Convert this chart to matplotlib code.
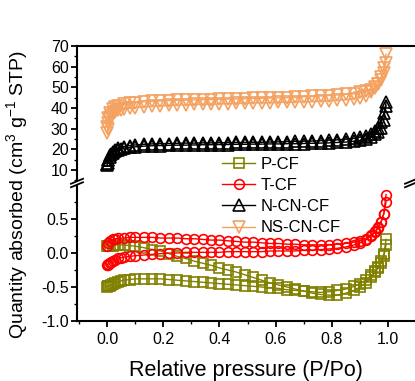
import matplotlib
matplotlib.use("Agg")
import matplotlib.pyplot as plt
from matplotlib.lines import Line2D
from matplotlib.patches import Polygon
from matplotlib.ticker import MultipleLocator

plt.rcParams['font.family'] = ['Liberation Sans', 'DejaVu Sans']
plt.rcParams['mathtext.fontset'] = 'custom'
plt.rcParams['mathtext.rm'] = 'Liberation Sans'

# ---------------- data ----------------
ads_x = [0.0, 0.002, 0.005, 0.01, 0.015, 0.02, 0.03, 0.04, 0.05, 0.06, 0.08, 0.1, 0.13, 0.16, 0.19,
         0.22, 0.25, 0.28, 0.31, 0.34, 0.37, 0.40, 0.43, 0.46, 0.49, 0.52, 0.55, 0.58, 0.61, 0.64,
         0.67, 0.70, 0.73, 0.76, 0.79, 0.82, 0.85, 0.88, 0.90, 0.92, 0.94, 0.955, 0.965, 0.975, 0.985, 0.993]
des_x = [0.993, 0.985, 0.975, 0.965, 0.955, 0.94, 0.92, 0.90, 0.88, 0.85, 0.82, 0.79, 0.76, 0.73, 0.70,
         0.67, 0.64, 0.61, 0.58, 0.55, 0.52, 0.49, 0.46, 0.43, 0.40, 0.37, 0.34, 0.31, 0.28, 0.25,
         0.22, 0.19, 0.16, 0.13, 0.10, 0.08, 0.06, 0.04, 0.03, 0.02, 0.01, 0.005, 0.0]

pcf_ads = [-0.50, -0.49, -0.49, -0.48, -0.47, -0.46, -0.44, -0.42, -0.41, -0.40, -0.39, -0.38, -0.38, -0.38, -0.38,
           -0.39, -0.40, -0.41, -0.42, -0.43, -0.44, -0.45, -0.46, -0.47, -0.48, -0.49, -0.50, -0.51, -0.52, -0.54,
           -0.55, -0.56, -0.57, -0.58, -0.57, -0.55, -0.53, -0.49, -0.45, -0.40, -0.33, -0.27, -0.20, -0.12, -0.02, 0.20]
pcf_des = [0.12, -0.05, -0.15, -0.22, -0.28, -0.36, -0.44, -0.50, -0.55, -0.59, -0.62, -0.62, -0.61, -0.59, -0.56,
           -0.53, -0.50, -0.47, -0.44, -0.40, -0.36, -0.32, -0.28, -0.25, -0.22, -0.18, -0.15, -0.12, -0.08, -0.05,
           -0.01, 0.03, 0.05, 0.08, 0.10, 0.11, 0.12, 0.12, 0.12, 0.11, 0.10, 0.10, 0.10]

tcf_ads = [-0.18, -0.17, -0.16, -0.15, -0.13, -0.12, -0.10, -0.08, -0.07, -0.06, -0.05, -0.04, -0.03, -0.02, -0.01,
           0.00, 0.00, 0.01, 0.01, 0.01, 0.01, 0.01, 0.02, 0.02, 0.02, 0.02, 0.02, 0.03, 0.03, 0.03,
           0.03, 0.04, 0.04, 0.05, 0.06, 0.07, 0.09, 0.12, 0.15, 0.19, 0.25, 0.31, 0.37, 0.45, 0.58, 0.86]
tcf_des = [0.75, 0.58, 0.46, 0.38, 0.32, 0.26, 0.21, 0.18, 0.16, 0.14, 0.13, 0.12, 0.12, 0.12, 0.12,
           0.13, 0.13, 0.14, 0.14, 0.15, 0.16, 0.16, 0.17, 0.18, 0.19, 0.19, 0.20, 0.21, 0.21, 0.22,
           0.22, 0.22, 0.23, 0.23, 0.23, 0.23, 0.22, 0.22, 0.21, 0.20, 0.18, 0.15, 0.11]

ncn_ads = [12.5, 13.5, 15.0, 16.5, 17.5, 18.3, 19.2, 19.8, 20.2, 20.5, 20.9, 21.2, 21.5, 21.7, 21.8,
           21.9, 22.0, 22.0, 22.1, 22.2, 22.2, 22.3, 22.3, 22.4, 22.4, 22.5, 22.5, 22.6, 22.6, 22.7,
           22.7, 22.8, 22.9, 23.0, 23.1, 23.3, 23.5, 23.9, 24.3, 25.0, 26.0, 27.2, 28.5, 30.5, 34.0, 43.0]
ncn_des = [41.0, 37.5, 33.0, 30.5, 29.0, 27.5, 26.5, 25.8, 25.3, 24.9, 24.6, 24.4, 24.2, 24.0, 23.9,
           23.8, 23.7, 23.6, 23.5, 23.4, 23.4, 23.3, 23.3, 23.2, 23.2, 23.1, 23.1, 23.0, 23.0, 22.9,
           22.8, 22.7, 22.6, 22.4, 22.1, 21.8, 21.3, 20.5, 19.8, 18.8, 17.0, 15.0, 13.0]

nscn_ads = [28.0, 30.0, 32.5, 34.5, 36.0, 37.0, 38.2, 38.8, 39.2, 39.5, 39.9, 40.2, 40.5, 40.8, 41.0,
            41.2, 41.4, 41.5, 41.7, 41.8, 41.9, 42.0, 42.1, 42.2, 42.3, 42.4, 42.5, 42.6, 42.7, 42.8,
            42.9, 43.0, 43.1, 43.3, 43.5, 43.7, 44.0, 44.5, 45.0, 46.0, 47.5, 49.5, 51.5, 55.0, 59.5, 66.0]
nscn_des = [62.0, 57.0, 53.5, 51.5, 50.0, 48.8, 48.0, 47.5, 47.0, 46.6, 46.3, 46.0, 45.8, 45.6, 45.4,
            45.2, 45.0, 44.9, 44.8, 44.7, 44.6, 44.5, 44.4, 44.3, 44.2, 44.1, 44.0, 43.9, 43.8, 43.7,
            43.6, 43.4, 43.2, 43.0, 42.6, 42.2, 41.7, 41.0, 40.3, 39.3, 37.5, 35.0, 31.0]

labels = ['P-CF', 'T-CF', 'N-CN-CF', 'NS-CN-CF']
colors = ['#808000', '#FF0000', '#000000', '#F4A262']
markers = ['s', 'o', '^', 'v']

top_yticks = [10, 20, 30, 40, 50, 60, 70]
bot_yticks = [-1.0, -0.5, 0.0, 0.5]
xticks = [0.0, 0.2, 0.4, 0.6, 0.8, 1.0]

# ---------------- figure ----------------
W, H = 415, 381
fig = plt.figure(figsize=(W / 100, H / 100), dpi=100)

def fx(px):
    return px / W

def fy(py):
    return 1 - py / H

L, R = 77, 415
T1, B1 = 46, 184
T2, B2 = 184, 321
ax_top = fig.add_axes([fx(L), fy(B1), fx(R) - fx(L), fy(T1) - fy(B1)])
ax_bot = fig.add_axes([fx(L), fy(B2), fx(R) - fx(L), fy(T2) - fy(B2)])

xlim = (-0.107, 1.096)
lw_sp = 1.5
ms = 7

series_bot = [(pcf_ads, pcf_des), (tcf_ads, tcf_des)]
series_top = [(ncn_ads, ncn_des), (nscn_ads, nscn_des)]

handles = []
for i, (a, d) in enumerate(series_bot):
    kw = dict(color=colors[i], marker=markers[i], mfc='none', mec=colors[i], ms=ms, mew=1.2, lw=1.0)
    h, = ax_bot.plot(ads_x, a, label=labels[i], **kw)
    ax_bot.plot(des_x, d, **kw)
    handles.append(h)
for j, (a, d) in enumerate(series_top):
    i = j + 2
    kw = dict(color=colors[i], marker=markers[i], mfc='none', mec=colors[i], ms=ms + 1, mew=1.2, lw=1.0)
    h, = ax_top.plot(ads_x, a, label=labels[i], **kw)
    ax_top.plot(des_x, d, **kw)
    handles.append(h)

for ax in (ax_top, ax_bot):
    ax.set_xlim(*xlim)
    ax.spines['right'].set_visible(False)
    for s in ax.spines.values():
        s.set_linewidth(lw_sp)
    ax.tick_params(axis='both', which='major', direction='out', length=4, width=1.3, labelsize=11.5, pad=2)
    ax.tick_params(axis='both', which='minor', direction='out', length=2.5, width=1.0)
    ax.tick_params(axis='y', right=False)

ax_top.set_ylim(3.2, 70)
ax_top.set_yticks(top_yticks)
ax_top.yaxis.set_minor_locator(MultipleLocator(5))
ax_top.spines['bottom'].set_visible(False)
ax_top.tick_params(axis='x', which='both', bottom=False, top=False, labelbottom=False)

ax_bot.set_ylim(-1.0, 1.015)
ax_bot.set_yticks(bot_yticks)
ax_bot.set_yticklabels(['-1.0', '-0.5', '0.0', '0.5'])
ax_bot.yaxis.set_minor_locator(MultipleLocator(0.25))
ax_bot.spines['top'].set_visible(False)
ax_bot.set_xticks(xticks)
ax_bot.set_xticklabels(['0.0', '0.2', '0.4', '0.6', '0.8', '1.0'])
ax_bot.xaxis.set_minor_locator(MultipleLocator(0.1))
ax_bot.tick_params(axis='x', which='both', top=False)
ax_bot.tick_params(axis='x', which='major', pad=4)
ax_bot.set_xlabel('Relative pressure (P/Po)', fontsize=15.5, labelpad=9)

fig.text(fx(18), fy(195), 'Quantity absorbed (cm$^3$ g$^{-1}$ STP)', rotation=90,
         ha='center', va='center', fontsize=14)

# axis break marks
def brk(cx, cy):
    dx, dy, gap = 6, 2.5, 3.5
    poly = Polygon([(fx(cx - dx), fy(cy + dy - gap / 2 + gap)), (fx(cx + dx), fy(cy - dy + gap / 2)),
                    (fx(cx + dx), fy(cy - dy - gap / 2)), (fx(cx - dx), fy(cy + dy - gap / 2))],
                   closed=True, transform=fig.transFigure, facecolor='white', edgecolor='none', zorder=10)
    fig.add_artist(poly)
    for off in (-gap / 2, gap / 2):
        fig.add_artist(Line2D([fx(cx - dx), fx(cx + dx)], [fy(cy + dy + off), fy(cy - dy + off)],
                              transform=fig.transFigure, color='black', lw=1.3, zorder=11))

brk(77, 183)
brk(411, 183)

fig.legend(handles=handles, labels=labels, loc='upper left', bbox_to_anchor=(fx(222), fy(157)),
           frameon=False, fontsize=12, handlelength=2.0, handletextpad=0.3, labelspacing=0.37,
           borderpad=0, borderaxespad=0, numpoints=1)

fig.savefig('out.png', dpi=100)
